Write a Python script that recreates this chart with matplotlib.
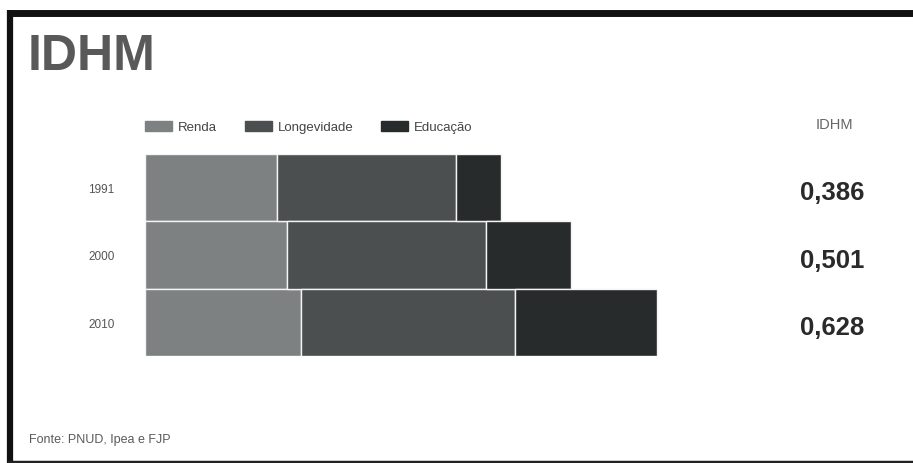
import matplotlib.pyplot as plt
import matplotlib.patches as mpatches
import numpy as np

# IDHM components per year
years = ["1991", "2000", "2010"]
renda = [0.495, 0.532, 0.584]
longevidade = [0.670, 0.745, 0.801]
educacao = [0.169, 0.318, 0.531]
idhm = ["0,386", "0,501", "0,628"]
series_names = ["Renda", "Longevidade", "Educação"]
colors = ["#7d8181", "#4b4f4f", "#272b2b"]

FONT = "Liberation Sans"
W, H = 913, 464
fig = plt.figure(figsize=(W / 100, H / 100), dpi=100)
fig.patch.set_facecolor("white")

# frame of the scanned card
frame = fig.add_axes([0, 0, 1, 1], zorder=-1)
frame.set_xlim(0, W)
frame.set_ylim(H, 0)
frame.axis("off")
frame.plot([7, W], [14, 14], color="#111111", lw=5, solid_capstyle="butt")
frame.plot([10, 10], [11, H], color="#111111", lw=4.5, solid_capstyle="butt")
frame.plot([7, W], [462.5, 462.5], color="#222222", lw=2.5, solid_capstyle="butt")

# bar area: x from 145 px, y from 155 to 357 px, 267 px per index unit
x0, x1, px_unit = 145, 700, 267
ax = fig.add_axes([x0 / W, 1 - 357 / H, (x1 - x0) / W, (357 - 155) / H])
y = np.arange(len(years))
left = np.zeros(len(years))
for vals, c in zip([renda, longevidade, educacao], colors):
    ax.barh(y, vals, left=left, height=1.0, color=c, edgecolor="#f4f4f4", linewidth=1.0)
    left += np.array(vals)

ax.set_xlim(0, (x1 - x0) / px_unit)
ax.set_ylim(len(years) - 0.5, -0.5)
ax.set_yticks(y)
ax.set_yticklabels(years, fontsize=8.5, color="#555555", family=FONT)
ax.tick_params(axis="y", length=0, pad=22)
ax.set_xticks([])
for s in ax.spines.values():
    s.set_visible(False)

# IDHM values on the right
for yi, v in zip(y, idhm):
    ax.text(
        (832 - x0) / px_unit, yi + 0.07, v,
        ha="center", va="center", fontsize=18.5, fontweight="bold",
        color="#2a2a2a", family=FONT,
    )
fig.text(834 / W, 1 - 125 / H, "IDHM", ha="center", va="center",
         fontsize=10.5, color="#666666", family=FONT)

# legend
handles = [mpatches.Patch(color=c, label=n) for c, n in zip(colors, series_names)]
fig.legend(
    handles=handles, loc="center left", bbox_to_anchor=(145 / W, 1 - 128 / H),
    ncol=3, frameon=False, borderpad=0, borderaxespad=0,
    handlelength=2.05, handleheight=0.76, handletextpad=0.45, columnspacing=2.1,
    prop={"family": FONT, "size": 9.5},
)
for t in fig.legends[0].get_texts():
    t.set_color("#444444")

# title and source
fig.text(28 / W, 1 - 57 / H, "IDHM", ha="left", va="center", fontsize=36,
         fontweight="bold", color="#595959", family=FONT)
fig.text(29 / W, 1 - 440 / H, "Fonte: PNUD, Ipea e FJP", ha="left", va="center",
         fontsize=9, color="#5a5a5a", family=FONT)

fig.savefig("out.png", dpi=100)
